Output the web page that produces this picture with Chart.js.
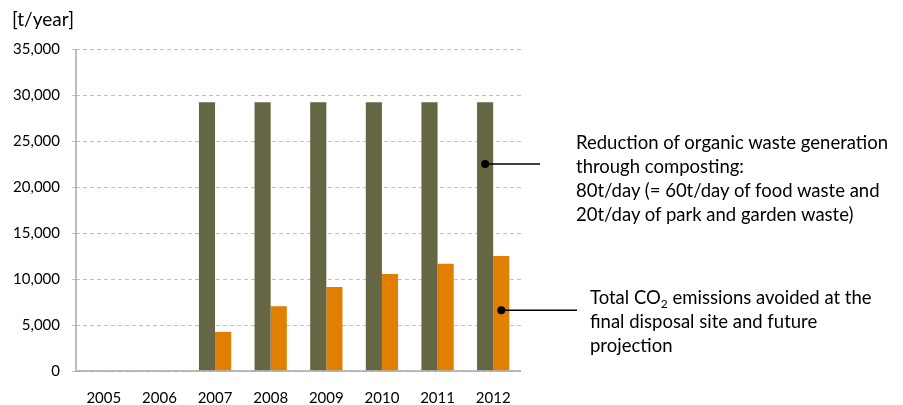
<!DOCTYPE html>
<html>
<head>
<meta charset="utf-8">
<script src="https://cdn.jsdelivr.net/npm/chart.js@4.4.0/dist/chart.umd.min.js"></script>
<style>
  html, body { margin: 0; padding: 0; background: #fff; }
  #wrap { position: relative; width: 903px; height: 405px; }
  canvas { position: absolute; left: 0; top: 0; }
  .note { position: absolute; font-family: Lato, "Open Sans", sans-serif; font-size: 18.5px; line-height: 24px; color: #000; white-space: nowrap; }
  .note sub { font-size: 12px; vertical-align: -4px; line-height: 0; }
</style>
</head>
<body>
<div id="wrap">
  <canvas id="c" width="903" height="405"></canvas>
  <div class="note" style="left:12px; top:7px; font-size:19px;">[t/year]</div>
  <div class="note" style="left:576px; top:130px;">Reduction of organic waste generation<br>through composting:<br>80t/day (= 60t/day of food waste and<br>20t/day of park and garden waste)</div>
  <div class="note" style="left:590px; top:285px;">Total CO<sub>2</sub> emissions avoided at the<br>final disposal site and future<br>projection</div>
</div>
<script>
const categories = ["2005", "2006", "2007", "2008", "2009", "2010", "2011", "2012"];
const wasteReduction = [null, null, 29200, 29200, 29200, 29200, 29200, 29200];
const co2Avoided = [null, null, 4250, 7050, 9130, 10550, 11650, 12500];
const yTicks = [0, 5000, 10000, 15000, 20000, 25000, 30000, 35000];
// annotation anchors: [dataset index, category index, value, line end x]
const callouts = [[0, 7, 22500, 540], [1, 7, 6600, 577]];

const calloutPlugin = {
  id: 'callouts',
  afterDatasetsDraw(chart) {
    const ctx = chart.ctx;
    const ys = chart.scales.y;
    callouts.forEach(([ds, idx, val, endX]) => {
      const bar = chart.getDatasetMeta(ds).data[idx];
      const x = bar.x;
      const y = ys.getPixelForValue(val);
      ctx.save();
      ctx.strokeStyle = '#000';
      ctx.lineWidth = 1.5;
      ctx.beginPath();
      ctx.moveTo(x, y);
      ctx.lineTo(endX, y);
      ctx.stroke();
      ctx.fillStyle = '#000';
      ctx.beginPath();
      ctx.arc(x, y, 4, 0, Math.PI * 2);
      ctx.fill();
      ctx.restore();
    });
  }
};

const axisLinePlugin = {
  id: 'axisLines',
  afterDatasetsDraw(chart) {
    const a = chart.chartArea, ctx = chart.ctx;
    ctx.save();
    ctx.strokeStyle = '#a6a6a6';
    ctx.lineWidth = 1.5;
    ctx.beginPath();
    ctx.moveTo(a.left, a.top);
    ctx.lineTo(a.left, a.bottom);
    ctx.lineTo(a.right, a.bottom);
    ctx.stroke();
    ctx.restore();
  }
};

new Chart(document.getElementById('c'), {
  type: 'bar',
  data: {
    labels: categories,
    datasets: [
      { label: 'Reduction of organic waste', data: wasteReduction, backgroundColor: '#656644', categoryPercentage: 0.58, barPercentage: 1.0 },
      { label: 'CO2 avoided', data: co2Avoided, backgroundColor: '#E07F00', categoryPercentage: 0.58, barPercentage: 1.0 }
    ]
  },
  options: {
    responsive: false,
    animation: false,
    layout: { padding: { top: 49, right: 382, bottom: 0, left: 0 } },
    plugins: { legend: { display: false }, tooltip: { enabled: false } },
    scales: {
      x: {
        grid: { display: false },
        border: { display: false },
        ticks: { color: '#000', font: { family: 'Lato', size: 15 }, padding: 10, maxRotation: 0 },
        afterFit(s) { s.height = 34; }
      },
      y: {
        min: 0, max: 35000,
        afterBuildTicks(s) { s.ticks = yTicks.map(v => ({ value: v })); },
        ticks: {
          color: '#000', font: { family: 'Lato', size: 15 }, padding: 12,
          callback: v => v.toLocaleString('en-US')
        },
        grid: { color: '#c0c0c0', lineWidth: 1, tickLength: 4, tickColor: '#c0c0c0' },
        border: { display: false, dash: [4, 3] },
        afterFit(s) { s.width = 76; }
      }
    }
  },
  plugins: [axisLinePlugin, calloutPlugin]
});
</script>
</body>
</html>
